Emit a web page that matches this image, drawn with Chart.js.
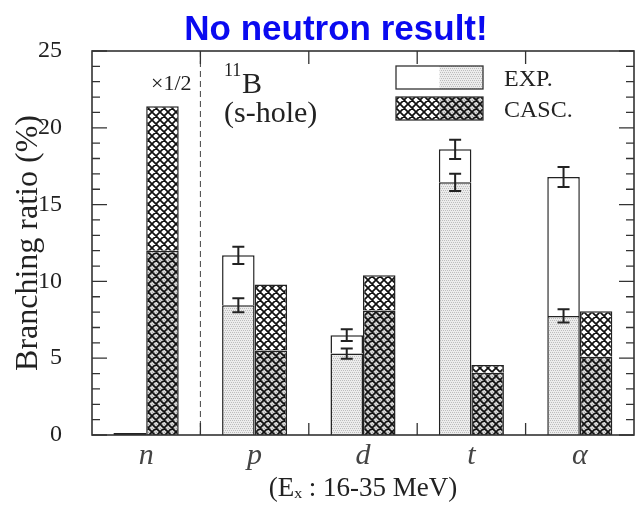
<!DOCTYPE html>
<html><head><meta charset="utf-8">
<script src="https://cdn.jsdelivr.net/npm/chart.js@4.4.0/dist/chart.umd.min.js"></script>
<style>html,body{margin:0;padding:0;background:#fff;} #wrap{position:relative;width:639px;height:506px;}</style>
</head><body><div id="wrap"><canvas id="c" width="639" height="506"></canvas></div>
<script>
// ---- data ----
const categories = ['n', 'p', 'd', 't', 'α'];
const expTotal    = [0, 11.7, 6.5, 18.6, 16.8];
const expTotalErr = [0, 0.56, 0.38, 0.63, 0.65];
const expLower    = [0, 8.45, 5.3, 16.45, 7.75];
const expLowerErr = [0, 0.46, 0.33, 0.56, 0.43];
const cascTotal   = [21.4, 9.8, 10.4, 4.55, 8.05];
const cascLower   = [12.0, 5.5, 8.1, 4.05, 5.1];
const yTicks = [0, 5, 10, 15, 20, 25];
const yMinorStep = 1;

const SERIF = "'Liberation Serif','Times New Roman',serif";
const canvas = document.getElementById('c');
const ctx0 = canvas.getContext('2d');

function makePattern(bg, dotColor, hatch) {
  const s = 8;
  const c = document.createElement('canvas'); c.width = s; c.height = s;
  const g = c.getContext('2d');
  g.fillStyle = bg; g.fillRect(0, 0, s, s);
  if (dotColor) {
    g.fillStyle = dotColor;
    for (let y = 0; y < s; y += 2) for (let x = (y / 2) % 2; x < s; x += 2) g.fillRect(x, y, 1, 1);
  }
  if (hatch) {
    g.strokeStyle = '#111'; g.lineWidth = 1.7; g.beginPath();
    for (const o of [-s, 0, s]) {
      g.moveTo(o, 0); g.lineTo(o + s, s);
      g.moveTo(o, s); g.lineTo(o + s, 0);
    }
    g.stroke();
  }
  return ctx0.createPattern(c, 'repeat');
}
const pStipple = makePattern('#ececec', '#bdbdbd', false);
const pHatch = makePattern('#ffffff', null, true);
const pHatchGray = makePattern('#d6d6d6', '#a8a8a8', true);

const expUpper = expTotal.map((v, i) => +(v - expLower[i]).toFixed(3));
const cascUpper = cascTotal.map((v, i) => +(v - cascLower[i]).toFixed(3));

const framePlugin = {
  id: 'frame',
  afterDatasetsDraw(chart) {
    const { ctx, chartArea: a, scales: { x, y } } = chart;
    ctx.save();
    // dashed separator between n and p
    const sep = (x.getPixelForValue(0) + x.getPixelForValue(1)) / 2;
    ctx.strokeStyle = '#444'; ctx.lineWidth = 1; ctx.setLineDash([6, 4]);
    ctx.beginPath(); ctx.moveTo(sep, a.top); ctx.lineTo(sep, a.bottom); ctx.stroke();
    ctx.setLineDash([]);
    // zero-height EXP bar for n drawn as a line on the base
    const m0 = chart.getDatasetMeta(0).data[0];
    ctx.strokeStyle = '#222'; ctx.lineWidth = 2;
    ctx.beginPath(); ctx.moveTo(m0.x - m0.width / 2, a.bottom - 1); ctx.lineTo(m0.x + m0.width / 2, a.bottom - 1); ctx.stroke();
    // frame
    ctx.strokeStyle = '#333'; ctx.lineWidth = 1.6;
    ctx.strokeRect(a.left, a.top, a.right - a.left, a.bottom - a.top);
    // y ticks both sides
    ctx.lineWidth = 1.3;
    const yMin = y.min, yMax = y.max;
    for (let v = yMin; v <= yMax + 1e-9; v += yMinorStep) {
      const py = y.getPixelForValue(v);
      const major = yTicks.includes(Math.round(v * 1000) / 1000);
      const len = major ? 15 : 8;
      ctx.beginPath();
      ctx.moveTo(a.left, py); ctx.lineTo(a.left + len, py);
      ctx.moveTo(a.right, py); ctx.lineTo(a.right - len, py);
      ctx.stroke();
    }
    // x boundary ticks top and bottom
    for (let i = 0; i < categories.length - 1; i++) {
      const px = (x.getPixelForValue(i) + x.getPixelForValue(i + 1)) / 2;
      ctx.beginPath();
      ctx.moveTo(px, a.bottom); ctx.lineTo(px, a.bottom - 12);
      ctx.moveTo(px, a.top); ctx.lineTo(px, a.top + 13);
      ctx.stroke();
    }
    // error bars on EXP bars
    const metaLow = chart.getDatasetMeta(0), metaUp = chart.getDatasetMeta(1);
    ctx.strokeStyle = '#222'; ctx.lineWidth = 2;
    const drawErr = (cx, v, e) => {
      if (!e) return;
      const y1 = y.getPixelForValue(v + e), y2 = y.getPixelForValue(v - e);
      ctx.beginPath();
      ctx.moveTo(cx, y1); ctx.lineTo(cx, y2);
      ctx.moveTo(cx - 6, y1); ctx.lineTo(cx + 6, y1);
      ctx.moveTo(cx - 6, y2); ctx.lineTo(cx + 6, y2);
      ctx.stroke();
    };
    for (let i = 0; i < categories.length; i++) {
      drawErr(metaLow.data[i].x, expLower[i], expLowerErr[i]);
      drawErr(metaUp.data[i].x, expTotal[i], expTotalErr[i]);
    }
    ctx.restore();
  },
  afterDraw(chart) {
    const { ctx } = chart;
    ctx.save();
    // headline
    ctx.fillStyle = '#0a0af0';
    ctx.font = "bold 35px 'Liberation Sans Narrow','Liberation Sans',sans-serif";
    ctx.textAlign = 'center'; ctx.textBaseline = 'alphabetic';
    ctx.fillText('No neutron result!', 336, 40);
    // annotations
    ctx.fillStyle = '#222'; ctx.textAlign = 'left';
    ctx.font = '22px ' + SERIF;
    ctx.fillText('×1/2', 151, 90);
    ctx.font = '18px ' + SERIF;
    ctx.fillText('11', 224, 76);
    ctx.font = '30px ' + SERIF;
    ctx.fillText('B', 242, 93);
    ctx.fillText('(s-hole)', 224, 122);
    // legend
    const bx = 396, bw = 87, bh = 23;
    ctx.fillStyle = '#fff'; ctx.fillRect(bx, 66, bw / 2, bh);
    ctx.fillStyle = pStipple; ctx.fillRect(bx + bw / 2, 66, bw / 2, bh);
    ctx.fillStyle = pHatch; ctx.fillRect(bx, 97, bw / 2, bh);
    ctx.fillStyle = pHatchGray; ctx.fillRect(bx + bw / 2, 97, bw / 2, bh);
    ctx.strokeStyle = '#333'; ctx.lineWidth = 1.3;
    ctx.strokeRect(bx, 66, bw, bh); ctx.strokeRect(bx, 97, bw, bh);
    ctx.fillStyle = '#222'; ctx.font = '24px ' + SERIF;
    ctx.fillText('EXP.', 504, 86);
    ctx.fillText('CASC.', 504, 117);
    ctx.restore();
  }
};

new Chart(canvas, {
  type: 'bar',
  data: {
    labels: categories,
    datasets: [
      { label: 'EXP.', data: expLower, stack: 'exp', backgroundColor: pStipple },
      { label: 'EXP. (upper)', data: expUpper, stack: 'exp', backgroundColor: '#ffffff' },
      { label: 'CASC.', data: cascLower, stack: 'casc', backgroundColor: pHatchGray },
      { label: 'CASC. (upper)', data: cascUpper, stack: 'casc', backgroundColor: pHatch }
    ]
  },
  options: {
    responsive: false,
    animation: false,
    layout: { padding: { top: 51, right: 5, bottom: 0, left: 0 } },
    datasets: { bar: { categoryPercentage: 0.6, barPercentage: 1, borderColor: '#222', borderWidth: 1.5, borderSkipped: 'start' } },
    plugins: { legend: { display: false }, tooltip: { enabled: false }, title: { display: false } },
    scales: {
      x: {
        stacked: true,
        grid: { display: false, drawTicks: false }, border: { display: false },
        ticks: { padding: 3, color: '#444', font: { family: SERIF, size: 30, style: 'italic' } },
        title: { display: true, text: '(Eₓ : 16-35 MeV)', color: '#222', font: { family: SERIF, size: 27 }, padding: { top: 0, bottom: 1 } },
        afterFit(s) { s.height = 71; }
      },
      y: {
        stacked: true, min: 0, max: 25,
        afterBuildTicks(s) { s.ticks = yTicks.map(v => ({ value: v })); },
        grid: { display: false, drawTicks: false }, border: { display: false },
        ticks: { padding: 30, color: '#222', font: { family: SERIF, size: 24 } },
        title: { display: true, text: 'Branching ratio (%)', color: '#222', font: { family: SERIF, size: 32 }, padding: { top: 9, bottom: 0 } },
        afterFit(s) { s.width = 92; }
      }
    }
  },
  plugins: [framePlugin]
});
</script>
</body></html>
